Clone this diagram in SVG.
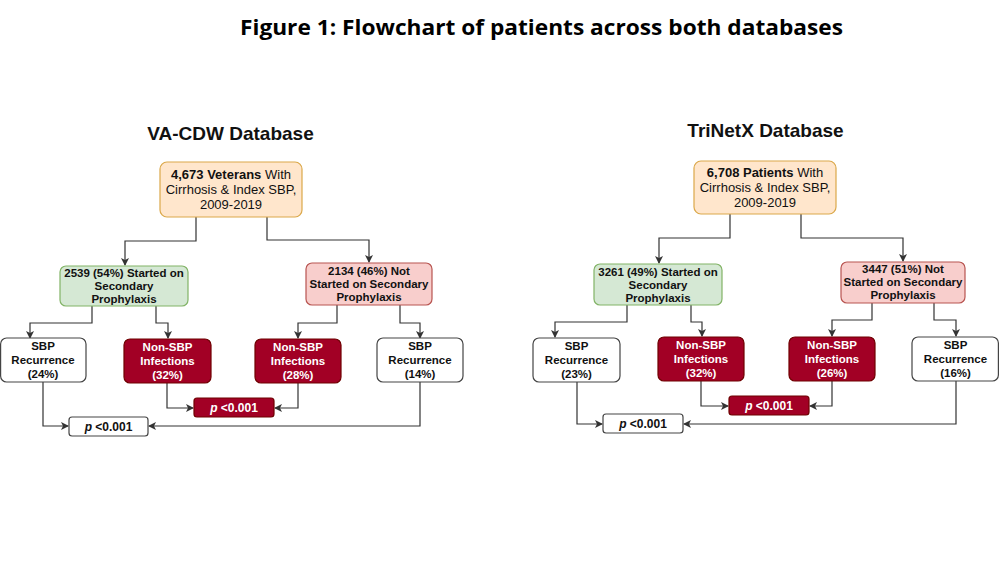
<svg xmlns="http://www.w3.org/2000/svg" width="1000" height="563" viewBox="0 0 1000 563">
<defs>
<marker id="arr" markerUnits="userSpaceOnUse" markerWidth="8" markerHeight="8" refX="7" refY="4" orient="auto">
<path d="M0,0 L8,4 L0,8 L2,4 z" fill="#333"/>
</marker>
<style>
.t{font-family:"Liberation Sans",Arial,sans-serif;text-anchor:middle}
.title{font-family:"Open Sans","Liberation Sans",sans-serif;font-weight:700;font-size:21px;text-anchor:middle;fill:#000}
.sub{font-size:19px;font-weight:700;fill:#111}
.top{fill:#ffe6cc;stroke:#dba84a;stroke-width:1.2}
.grn{fill:#d5e8d4;stroke:#82b366;stroke-width:1.2}
.red{fill:#f8cecc;stroke:#b85450;stroke-width:1.2}
.dark{fill:#a20025;stroke:#6f0000;stroke-width:1.2}
.wht{fill:#fff;stroke:#444;stroke-width:1.2}
.tt{font-size:13px;fill:#111}
.b{font-weight:700}
.st{font-size:11.5px;font-weight:700;fill:#111}
.wt{font-size:11.5px;font-weight:700;fill:#fff}
.pt{font-size:12px;font-weight:700}
.c path{fill:none;stroke:#333;stroke-width:1.2;marker-end:url(#arr)}
</style>
</defs>
<rect width="1000" height="563" fill="#fff"/>
<text class="title" x="541.5" y="35" textLength="603" lengthAdjust="spacingAndGlyphs">Figure 1: Flowchart of patients across both databases</text>
<text class="t sub" x="230.5" y="140">VA-CDW Database</text>
<text class="t sub" x="765.5" y="137">TriNetX Database</text>

<g id="connectors" class="c">
<path d="M196 217 V241 H125 V265"/>
<path d="M267 217 V240 H369 V262"/>
<path d="M92 306 V323 H30 V338"/>
<path d="M156 306 V323 H168 V338"/>
<path d="M337 305 V323 H298 V338"/>
<path d="M400 305 V323 H420 V338"/>
<path d="M167 383 V408 H193"/>
<path d="M298 383 V408 H275"/>
<path d="M43 382 V426 H68"/>
<path d="M420 382 V426 H149"/>
<path d="M730 214 V238 H659 V263"/>
<path d="M801 214 V238 H903 V261"/>
<path d="M627 305 V322 H555 V337"/>
<path d="M691 305 V322 H702 V336"/>
<path d="M872 303 V320 H832 V336"/>
<path d="M934 303 V320 H956 V336"/>
<path d="M701 381 V406 H728"/>
<path d="M832 381 V406 H810"/>
<path d="M577 382 V424 H602"/>
<path d="M956 381 V424 H684"/>
</g>

<g id="va-top">
<rect class="top" x="160" y="162" width="142" height="55" rx="7"/>
<text class="t tt" x="231" y="179"><tspan class="b">4,673 Veterans</tspan> With</text>
<text class="t tt" x="231" y="194">Cirrhosis &amp; Index SBP,</text>
<text class="t tt" x="231" y="209">2009-2019</text>
</g>
<g id="va-started">
<rect class="grn" x="60" y="266" width="128" height="40" rx="6"/>
<text class="t st" x="124" y="277">2539 (54%) Started on</text>
<text class="t st" x="124" y="290">Secondary</text>
<text class="t st" x="124" y="303">Prophylaxis</text>
</g>
<g id="va-notstarted">
<rect class="red" x="306" y="263" width="126" height="42" rx="6"/>
<text class="t st" x="369" y="275">2134 (46%) Not</text>
<text class="t st" x="369" y="288">Started on Secondary</text>
<text class="t st" x="369" y="301">Prophylaxis</text>
</g>
<g id="va-sbp1">
<rect class="wht" x="0.6" y="338" width="85.4" height="44" rx="6"/>
<text class="t st" x="43" y="350">SBP</text>
<text class="t st" x="43" y="364">Recurrence</text>
<text class="t st" x="43" y="378">(24%)</text>
</g>
<g id="va-inf1">
<rect class="dark" x="124" y="339" width="87" height="44" rx="6"/>
<text class="t wt" x="167.5" y="351">Non-SBP</text>
<text class="t wt" x="167.5" y="365">Infections</text>
<text class="t wt" x="167.5" y="379">(32%)</text>
</g>
<g id="va-inf2">
<rect class="dark" x="255" y="339" width="86" height="44" rx="6"/>
<text class="t wt" x="298" y="351">Non-SBP</text>
<text class="t wt" x="298" y="365">Infections</text>
<text class="t wt" x="298" y="379">(28%)</text>
</g>
<g id="va-sbp2">
<rect class="wht" x="377" y="338" width="86" height="44" rx="6"/>
<text class="t st" x="420" y="350">SBP</text>
<text class="t st" x="420" y="364">Recurrence</text>
<text class="t st" x="420" y="378">(14%)</text>
</g>
<g id="va-p-inf">
<rect class="dark" x="194" y="398" width="80" height="19" rx="3"/>
<text class="t pt" x="234" y="412" fill="#fff"><tspan font-style="italic">p</tspan> &lt;0.001</text>
</g>
<g id="va-p-sbp">
<rect class="wht" x="69" y="417" width="79" height="19" rx="3"/>
<text class="t pt" x="108.5" y="431" fill="#111"><tspan font-style="italic">p</tspan> &lt;0.001</text>
</g>

<g id="tx-top">
<rect class="top" x="694" y="161" width="142" height="53" rx="7"/>
<text class="t tt" x="765" y="177"><tspan class="b">6,708 Patients</tspan> With</text>
<text class="t tt" x="765" y="192">Cirrhosis &amp; Index SBP,</text>
<text class="t tt" x="765" y="207">2009-2019</text>
</g>
<g id="tx-started">
<rect class="grn" x="594" y="264" width="128" height="41" rx="6"/>
<text class="t st" x="658" y="276">3261 (49%) Started on</text>
<text class="t st" x="658" y="289">Secondary</text>
<text class="t st" x="658" y="302">Prophylaxis</text>
</g>
<g id="tx-notstarted">
<rect class="red" x="841" y="262" width="124" height="41" rx="6"/>
<text class="t st" x="903" y="273">3447 (51%) Not</text>
<text class="t st" x="903" y="286">Started on Secondary</text>
<text class="t st" x="903" y="299">Prophylaxis</text>
</g>
<g id="tx-sbp1">
<rect class="wht" x="533" y="338" width="87" height="44" rx="6"/>
<text class="t st" x="576.5" y="350">SBP</text>
<text class="t st" x="576.5" y="364">Recurrence</text>
<text class="t st" x="576.5" y="378">(23%)</text>
</g>
<g id="tx-inf1">
<rect class="dark" x="658" y="337" width="86" height="44" rx="6"/>
<text class="t wt" x="701" y="349">Non-SBP</text>
<text class="t wt" x="701" y="363">Infections</text>
<text class="t wt" x="701" y="377">(32%)</text>
</g>
<g id="tx-inf2">
<rect class="dark" x="789" y="337" width="86" height="44" rx="6"/>
<text class="t wt" x="832" y="349">Non-SBP</text>
<text class="t wt" x="832" y="363">Infections</text>
<text class="t wt" x="832" y="377">(26%)</text>
</g>
<g id="tx-sbp2">
<rect class="wht" x="912" y="337" width="86.4" height="44" rx="6"/>
<text class="t st" x="955.5" y="349">SBP</text>
<text class="t st" x="955.5" y="363">Recurrence</text>
<text class="t st" x="955.5" y="377">(16%)</text>
</g>
<g id="tx-p-inf">
<rect class="dark" x="729" y="396" width="80" height="19" rx="3"/>
<text class="t pt" x="769" y="410" fill="#fff"><tspan font-style="italic">p</tspan> &lt;0.001</text>
</g>
<g id="tx-p-sbp">
<rect class="wht" x="603" y="414" width="80" height="19" rx="3"/>
<text class="t pt" x="643" y="428" fill="#111"><tspan font-style="italic">p</tspan> &lt;0.001</text>
</g>
</svg>
